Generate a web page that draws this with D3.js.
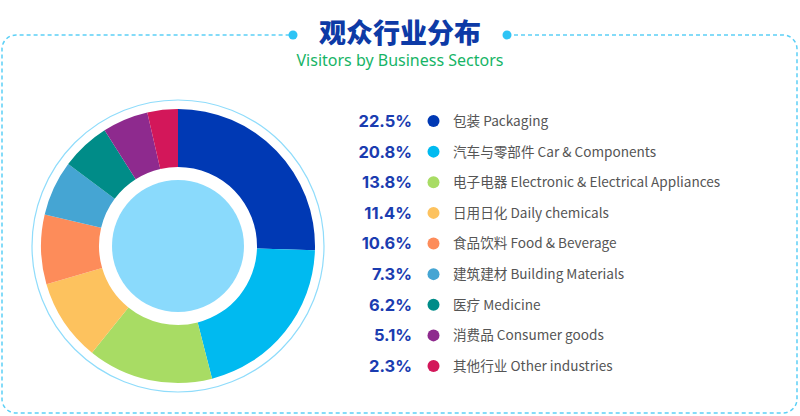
<!DOCTYPE html>
<html><head><meta charset="utf-8">
<script src="https://cdn.jsdelivr.net/npm/d3@7"></script>
<style>html,body{margin:0;padding:0;background:#fff;}svg{display:block;}</style>
</head><body>
<svg id="chart" width="800" height="416"></svg>
<script>
const categories = ["包装 Packaging","汽车与零部件 Car & Components","电子电器 Electronic & Electrical Appliances","日用日化 Daily chemicals","食品饮料 Food & Beverage","建筑建材 Building Materials","医疗 Medicine","消费品 Consumer goods","其他行业 Other industries"];
const percentLabels = ["22.5%","20.8%","13.8%","11.4%","10.6%","7.3%","6.2%","5.1%","2.3%"];
const sliceShares = [25.5, 20.5, 14.8, 9.7, 8.2, 6.5, 5.8, 5.4, 3.6];
const colors = ["#0039b4","#00baf0","#a8dc64","#fdc25e","#fd8c5a","#45a5d3","#008c88","#8e2a8e","#d3175a"];
const title = "观众行业分布";
const subtitle = "Visitors by Business Sectors";

const svg = d3.select("#chart");

// dashed frame
const fx = 2, fy = 35, fw = 795, fh = 378, fr = 14;
const gapL = 293, gapR = 507;
const framePath = d3.path();
framePath.moveTo(gapR, fy);
framePath.lineTo(fx+fw-fr, fy);
framePath.arcTo(fx+fw, fy, fx+fw, fy+fr, fr);
framePath.lineTo(fx+fw, fy+fh-fr);
framePath.arcTo(fx+fw, fy+fh, fx+fw-fr, fy+fh, fr);
framePath.lineTo(fx+fr, fy+fh);
framePath.arcTo(fx, fy+fh, fx, fy+fh-fr, fr);
framePath.lineTo(fx, fy+fr);
framePath.arcTo(fx, fy, fx+fr, fy, fr);
framePath.lineTo(gapL, fy);
svg.append("path").attr("d", framePath.toString()).attr("fill","none")
  .attr("stroke","#5cd0f6").attr("stroke-width",1.5).attr("stroke-dasharray","4,3");
[gapL, gapR].forEach(x => svg.append("circle").attr("cx",x).attr("cy",fy).attr("r",4.5).attr("fill","#2ec4f5"));

svg.append("text").attr("x",400).attr("y",43).attr("text-anchor","middle")
  .attr("font-family","'Noto Sans CJK SC'").attr("font-weight",900).attr("font-size",27)
  .attr("fill","#0d3aa6").text(title);
svg.append("text").attr("x",400).attr("y",66).attr("text-anchor","middle")
  .attr("font-family","'Noto Sans','Open Sans',sans-serif").attr("font-size",16)
  .attr("fill","#16b466").text(subtitle);

// donut
const cx = 178, cy = 246;
const g = svg.append("g").attr("transform",`translate(${cx},${cy})`);
g.append("circle").attr("r",146).attr("fill","none").attr("stroke","#8fdcfb").attr("stroke-width",1.2);
const pie = d3.pie().sort(null).value(d => d);
const arc = d3.arc().innerRadius(79).outerRadius(137);
g.selectAll("path.slice").data(pie(sliceShares)).join("path").attr("class","slice")
  .attr("d", arc).attr("fill",(d,i)=>colors[i]);
g.append("circle").attr("r",66).attr("fill","#8adafc");

// legend
const y = d3.scalePoint().domain(categories).range([121, 366]);
const leg = svg.append("g");
const rows = leg.selectAll("g").data(categories).join("g")
  .attr("transform", d => `translate(0,${y(d)})`);
rows.append("text").attr("x",412).attr("y",0).attr("dy","0.36em").attr("text-anchor","end")
  .attr("font-family","Inter,'Noto Sans',sans-serif").attr("font-weight",700).attr("font-size",16.5)
  .attr("fill","#1a3cb0").text((d,i)=>percentLabels[i]);
rows.append("circle").attr("cx",433.5).attr("cy",0).attr("r",6).attr("fill",(d,i)=>colors[i]);
rows.append("text").attr("x",453).attr("y",0).attr("dy","0.36em")
  .attr("font-family","'Noto Sans CJK SC','Noto Sans',sans-serif").attr("font-size",13.6)
  .attr("fill","#555").text(d=>d);
</script>
</body></html>
